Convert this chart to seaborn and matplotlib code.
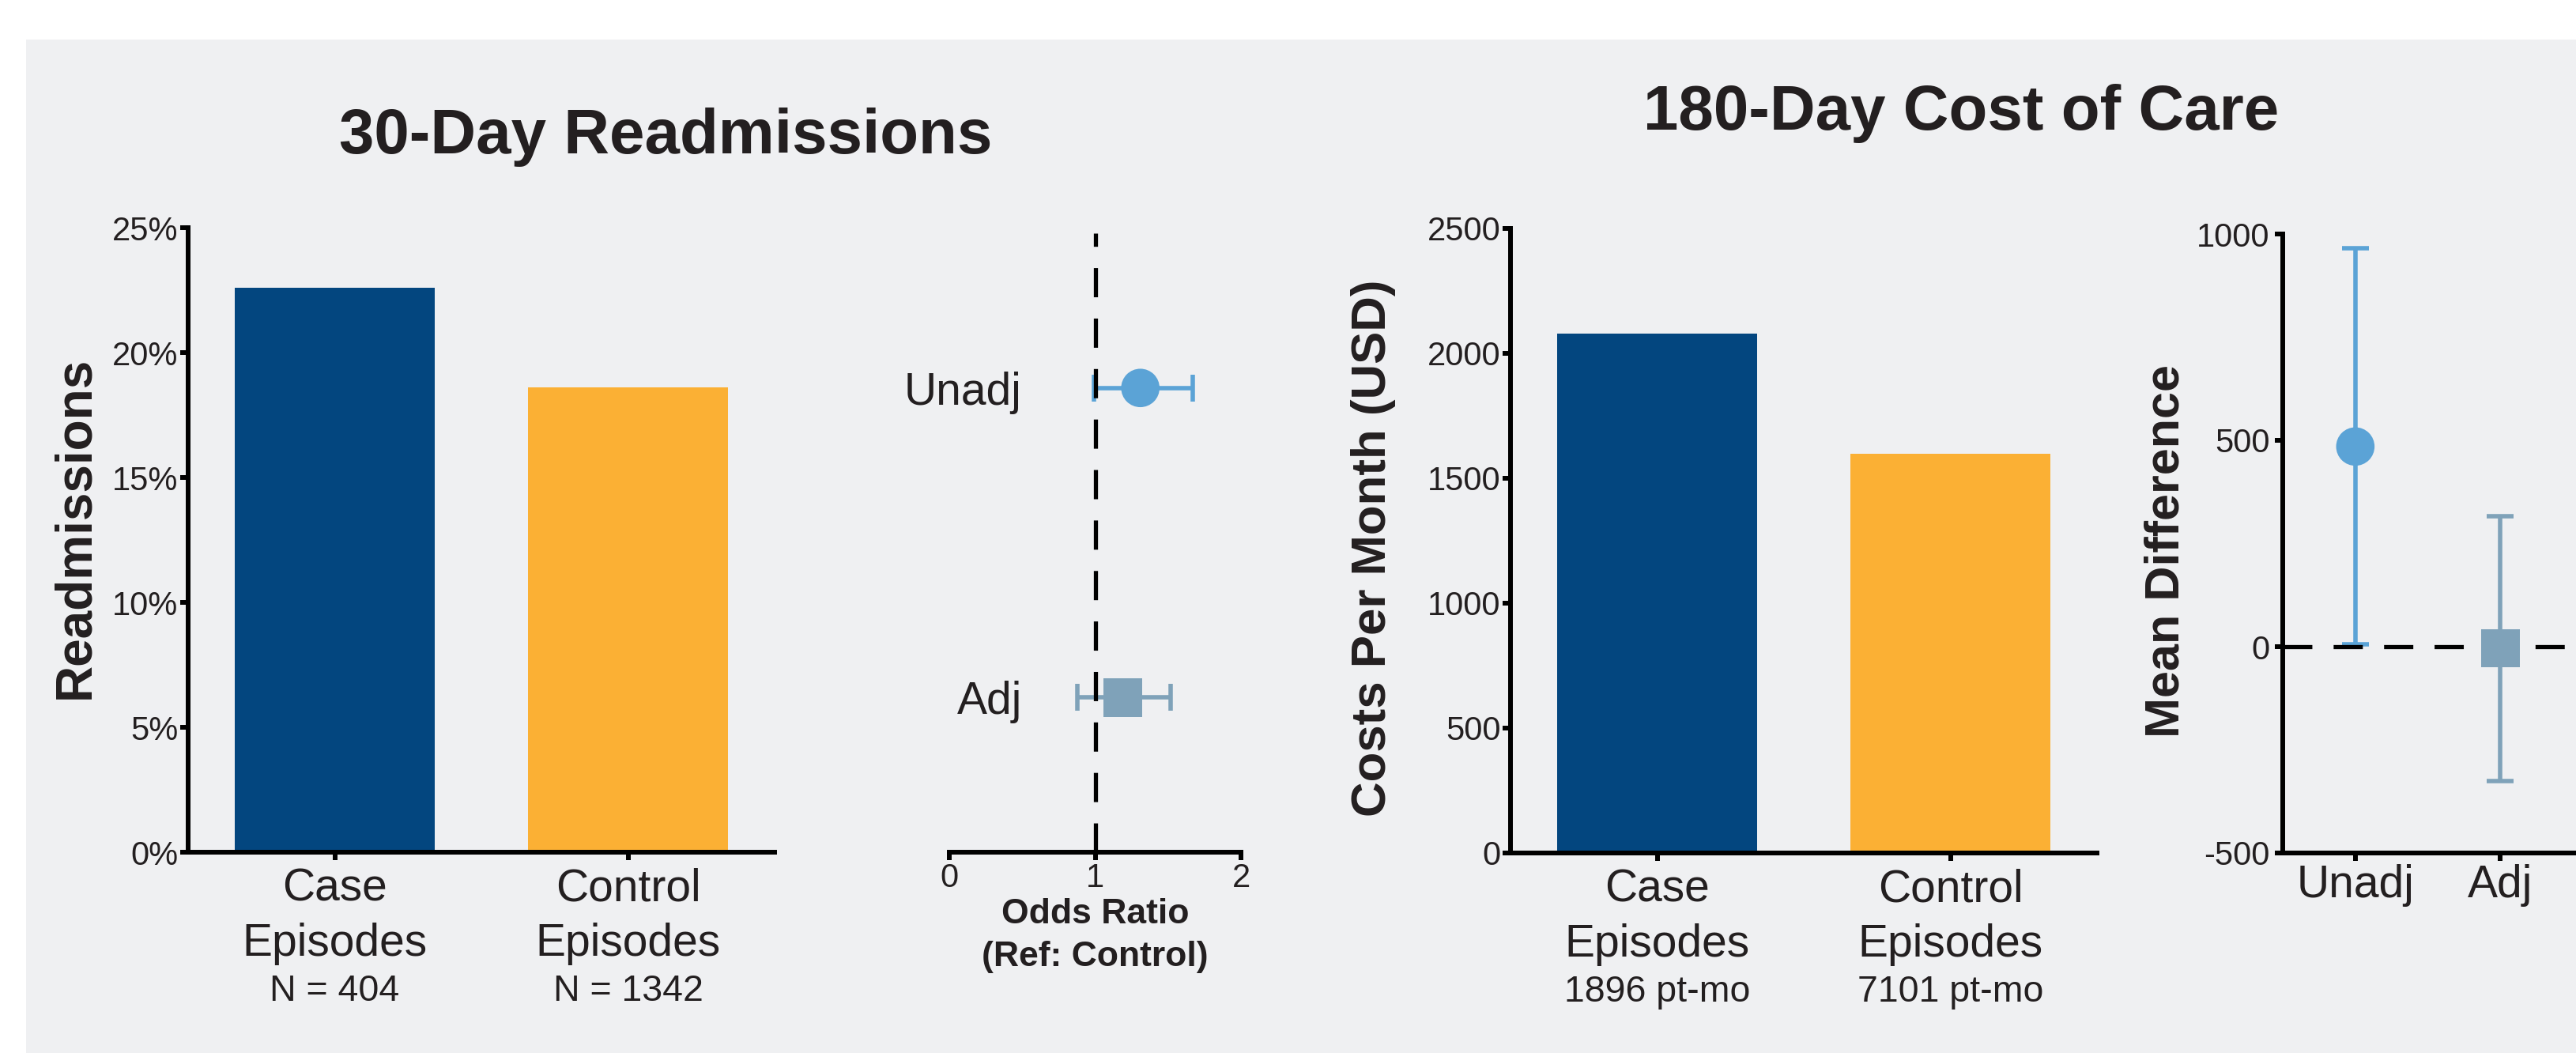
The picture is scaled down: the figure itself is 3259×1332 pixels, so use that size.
import matplotlib
matplotlib.use("Agg")
import matplotlib.pyplot as plt
from matplotlib.patches import Rectangle
import pandas as pd
import seaborn as sns

# ---------------- data ----------------
groups = ["Case\nEpisodes", "Control\nEpisodes"]
readmit_n = ["N = 404", "N = 1342"]
readmit_pct = [22.6, 18.6]
cost_exposure = ["1896 pt-mo", "7101 pt-mo"]
cost_per_month = [2078, 1597]

models = ["Unadj", "Adj"]
odds_ratio = [1.31, 1.19]
or_lower = [0.99, 0.88]
or_upper = [1.67, 1.52]

mean_diff = [485, -4]
md_lower = [5, -326]
md_upper = [965, 316]

pct_ticks = [0, 5, 10, 15, 20, 25]
cost_ticks = [0, 500, 1000, 1500, 2000, 2500]
or_ticks = [0, 1, 2]
md_ticks = [-500, 0, 500, 1000]

# ---------------- style ----------------
W, H, DPI = 3259, 1332, 100
INK = "#231F20"
PANEL_BG = "#EFF0F2"
bar_colors = ["#03467F", "#FBB034"]
model_colors = ["#5BA3D6", "#7FA2B9"]
model_markers = {"Unadj": "o", "Adj": "s"}

sns.set_theme(style="ticks")
plt.rcParams["font.family"] = ["Liberation Sans", "DejaVu Sans"]
plt.rcParams.update({
    "axes.unicode_minus": False,
    "text.color": INK,
    "axes.labelcolor": INK,
    "xtick.color": "black",
    "ytick.color": "black",
    "xtick.labelcolor": INK,
    "ytick.labelcolor": INK,
    "axes.edgecolor": "black",
    "axes.linewidth": 4.3,
    "xtick.major.width": 4.3,
    "ytick.major.width": 4.3,
    "xtick.major.size": 7,
    "ytick.major.size": 7,
    "axes.facecolor": "none",
})

fig = plt.figure(figsize=(W / DPI, H / DPI), dpi=DPI)
fig.patch.set_facecolor("white")
fig.add_artist(Rectangle((33 / W, 0), 1 - 33 / W, 1 - 50 / H,
                         transform=fig.transFigure, facecolor=PANEL_BG,
                         edgecolor="none", zorder=-10))


def px_axes(left, top, right, bottom):
    return fig.add_axes([left / W, 1 - bottom / H, (right - left) / W, (bottom - top) / H])


DASH_LW = 3.8
DASHES = (7.0, 5.1)
ERR_KW = dict(fmt="none", elinewidth=4.0, capsize=12.5, capthick=4.0, zorder=2)


def bar_panel(ax, values, ticks, ticklabels, ylabel, ylabel_size, sublabels, label_xy):
    df = pd.DataFrame({"group": groups, "value": values})
    sns.barplot(data=df, x="group", y="value", hue="group", palette=bar_colors,
                width=0.68, saturation=1, errorbar=None, legend=False,
                edgecolor="none", linewidth=0, ax=ax)
    ax.set_xlim(-0.5, 1.5)
    ax.set_ylim(ticks[0], ticks[-1])
    ax.set_yticks(ticks, ticklabels)
    ax.set_xticks(range(len(groups)), groups)
    ax.tick_params(axis="y", labelsize=30, pad=2)
    ax.tick_params(axis="x", labelsize=41, pad=7)
    for lbl in ax.get_xticklabels():
        lbl.set_linespacing(1.37)
    ax.set_xlabel("")
    ax.set_ylabel(ylabel, fontsize=ylabel_size, fontweight="bold", va="center")
    ax.yaxis.set_label_coords(*label_xy)
    for i, s in enumerate(sublabels):
        ax.annotate(s, xy=(i, 0), xycoords=("data", "axes fraction"),
                    xytext=(0, -135.4), textcoords="offset points",
                    ha="center", va="baseline", fontsize=33.5, color=INK)
    sns.despine(ax=ax)


# ---- 30-day readmissions: bars ----
ax1 = px_axes(238, 288, 980, 1078)
bar_panel(ax1, readmit_pct, pct_ticks, [f"{t}%" for t in pct_ticks],
          "Readmissions", 46, readmit_n, (-0.1927, 0.52))

# ---- 30-day readmissions: odds ratios ----
ax2 = px_axes(1201, 295, 1570, 1078)
or_df = pd.DataFrame({"model": models, "value": odds_ratio})
ax2.errorbar(odds_ratio[0:1], models[0:1], xerr=[[odds_ratio[0] - or_lower[0]], [or_upper[0] - odds_ratio[0]]],
             ecolor=model_colors[0], **ERR_KW)
ax2.errorbar(odds_ratio[1:2], models[1:2], xerr=[[odds_ratio[1] - or_lower[1]], [or_upper[1] - odds_ratio[1]]],
             ecolor=model_colors[1], **ERR_KW)
sns.scatterplot(data=or_df, x="value", y="model", hue="model", style="model",
                palette=model_colors, markers=model_markers, s=1225,
                linewidth=0, edgecolor="none", legend=False, zorder=3, ax=ax2)
ax2.axvline(1, color="black", lw=DASH_LW, dashes=DASHES, zorder=2.5)
ax2.set_xlim(or_ticks[0], or_ticks[-1])
ax2.set_ylim(1.5, -0.5)
ax2.set_xticks(or_ticks, [str(t) for t in or_ticks])
ax2.tick_params(axis="x", labelsize=30, pad=2)
ax2.tick_params(axis="y", labelsize=41, length=0, pad=-66.2)
ax2.set_ylabel("")
ax2.set_xlabel("Odds Ratio\n(Ref: Control)", fontsize=32, fontweight="bold",
               linespacing=1.4, va="top")
ax2.xaxis.set_label_coords(0.5, -0.074)
sns.despine(ax=ax2, left=True)

# ---- 180-day cost of care: bars ----
ax3 = px_axes(1911, 289, 2653, 1079)
bar_panel(ax3, cost_per_month, cost_ticks, [str(t) for t in cost_ticks],
          "Costs Per Month (USD)", 44.5, cost_exposure, (-0.2345, 0.488))

# ---- 180-day cost of care: mean difference ----
ax4 = px_axes(2888, 296, 3259, 1079)
md_df = pd.DataFrame({"model": models, "value": mean_diff})
ax4.errorbar(models[0:1], mean_diff[0:1], yerr=[[mean_diff[0] - md_lower[0]], [md_upper[0] - mean_diff[0]]],
             ecolor=model_colors[0], **ERR_KW)
ax4.errorbar(models[1:2], mean_diff[1:2], yerr=[[mean_diff[1] - md_lower[1]], [md_upper[1] - mean_diff[1]]],
             ecolor=model_colors[1], **ERR_KW)
sns.scatterplot(data=md_df, x="model", y="value", hue="model", style="model",
                palette=model_colors, markers=model_markers, s=1225,
                linewidth=0, edgecolor="none", legend=False, zorder=3, ax=ax4)
ax4.axhline(0, color="black", lw=DASH_LW, dashes=DASHES, zorder=2.5)
ax4.set_xlim(-0.5, 1.52)
ax4.set_ylim(md_ticks[0], md_ticks[-1])
ax4.set_yticks(md_ticks, [str(t) for t in md_ticks])
ax4.tick_params(axis="y", labelsize=30, pad=5)
ax4.tick_params(axis="x", labelsize=41, pad=3)
ax4.set_xlabel("")
ax4.set_ylabel("Mean Difference", fontsize=44, fontweight="bold", va="center")
ax4.yaxis.set_label_coords(-0.396, 0.488)
sns.despine(ax=ax4)

# ---- section titles ----
fig.text(842 / W, 1 - 194 / H, "30-Day Readmissions", ha="center", va="baseline",
         fontsize=57.5, fontweight="bold", color=INK)
fig.text(2481 / W, 1 - 164 / H, "180-Day Cost of Care", ha="center", va="baseline",
         fontsize=57.5, fontweight="bold", color=INK)

fig.savefig("out.png", dpi=DPI, facecolor=fig.get_facecolor())
